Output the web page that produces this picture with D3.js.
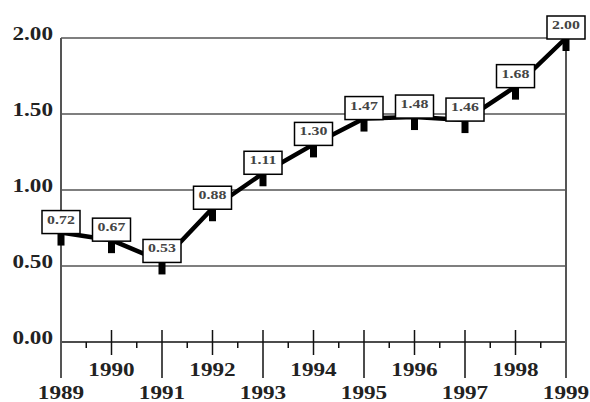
<!DOCTYPE html>
<html>
<head>
<meta charset="utf-8">
<script src="https://cdn.jsdelivr.net/npm/d3@7"></script>
<style>
  html, body { margin: 0; padding: 0; background: #fff; }
  svg { display: block; }
  text { font-family: "Liberation Serif", "DejaVu Serif", serif; font-weight: bold; }
</style>
</head>
<body>
<svg id="chart" width="590" height="402"></svg>
<script>
// Yearly values, 1989–1999
const years = [1989, 1990, 1991, 1992, 1993, 1994, 1995, 1996, 1997, 1998, 1999];
const values = [0.72, 0.67, 0.53, 0.88, 1.11, 1.30, 1.47, 1.48, 1.46, 1.68, 2.00];
const valueLabels = ["0.72", "0.67", "0.53", "0.88", "1.11", "1.30", "1.47", "1.48", "1.46", "1.68", "2.00"];
const yTicks = [0, 0.5, 1.0, 1.5, 2.0];
const yTickLabels = ["0.00", "0.50", "1.00", "1.50", "2.00"];
const evenYears = [1990, 1992, 1994, 1996, 1998];
const oddYears = [1991, 1993, 1995, 1997];
const edgeYears = [1989, 1999];
const halfYears = [1989.5, 1990.5, 1991.5, 1992.5, 1993.5, 1994.5, 1995.5, 1996.5, 1997.5, 1998.5];

const svg = d3.select("#chart");
const x = d3.scaleLinear().domain([1989, 1999]).range([61, 566]);
const y = d3.scaleLinear().domain([0, 2]).range([342, 38]);
const stretch = 1.22;

function label(g, tx, ty, str, anchor, size, fill) {
  g.append("text")
    .attr("transform", `translate(${tx},${ty}) scale(${stretch},1)`)
    .attr("text-anchor", anchor)
    .attr("font-size", size)
    .attr("fill", fill)
    .text(str);
}

// Horizontal gridlines
svg.append("g").selectAll("line")
  .data(yTicks.filter(d => d > 0))
  .join("line")
  .attr("x1", x(1989)).attr("x2", x(1999))
  .attr("y1", d => y(d)).attr("y2", d => y(d))
  .attr("stroke", "#555").attr("stroke-width", 1.6);

// Baseline
svg.append("line")
  .attr("x1", x(1989)).attr("x2", x(1999))
  .attr("y1", y(0)).attr("y2", y(0))
  .attr("stroke", "#111").attr("stroke-width", 1.5);

// Frame edges at first and last year, running below the axis
svg.append("g").selectAll("line")
  .data(edgeYears)
  .join("line")
  .attr("x1", d => x(d)).attr("x2", d => x(d))
  .attr("y1", y(2)).attr("y2", y(0) + 36)
  .attr("stroke", "#555").attr("stroke-width", 2);

// Odd-year ticks (long)
svg.append("g").selectAll("line")
  .data(oddYears)
  .join("line")
  .attr("x1", d => x(d)).attr("x2", d => x(d))
  .attr("y1", y(0) - 12).attr("y2", y(0) + 36)
  .attr("stroke", "#111").attr("stroke-width", 1.5);

// Even-year ticks (cross the axis)
svg.append("g").selectAll("line")
  .data(evenYears)
  .join("line")
  .attr("x1", d => x(d)).attr("x2", d => x(d))
  .attr("y1", y(0) - 12).attr("y2", y(0) + 13)
  .attr("stroke", "#111").attr("stroke-width", 1.5);

// Half-year minor ticks
svg.append("g").selectAll("line")
  .data(halfYears)
  .join("line")
  .attr("x1", d => x(d)).attr("x2", d => x(d))
  .attr("y1", y(0)).attr("y2", y(0) + 6)
  .attr("stroke", "#111").attr("stroke-width", 1.5);

// Y-axis labels
const yl = svg.append("g");
yTicks.forEach((t, i) => label(yl, 53, y(t) + 2, yTickLabels[i], "end", 19, "#222"));

// X-axis labels: even years on the upper row, odd years on the lower row
const xl = svg.append("g");
evenYears.forEach(d => label(xl, x(d), 376, String(d), "middle", 19, "#222"));
oddYears.concat(edgeYears).forEach(d => label(xl, x(d), 399, String(d), "middle", 19, "#222"));

// Data line
const pts = years.map((yr, i) => ({ yr, v: values[i], lab: valueLabels[i] }));
svg.append("path")
  .datum(pts)
  .attr("d", d3.line().x(d => x(d.yr)).y(d => y(d.v)))
  .attr("fill", "none")
  .attr("stroke", "#000")
  .attr("stroke-width", 4.5)
  .attr("stroke-linejoin", "round");

// Point markers below each value box
svg.append("g").selectAll("rect")
  .data(pts)
  .join("rect")
  .attr("x", d => x(d.yr) - 3.5)
  .attr("y", d => y(d.v) + 1)
  .attr("width", 7).attr("height", 12)
  .attr("fill", "#000");

// Value boxes
const boxes = svg.append("g").selectAll("g")
  .data(pts)
  .join("g");
boxes.append("rect")
  .attr("x", d => x(d.yr) - 19)
  .attr("y", d => y(d.v) - 22)
  .attr("width", 38).attr("height", 23)
  .attr("fill", "#fff")
  .attr("stroke", "#000").attr("stroke-width", 1.5);
boxes.each(function(d) {
  label(d3.select(this), x(d.yr), y(d.v) - 9, d.lab, "middle", 13, "#444");
});
</script>
</body>
</html>
